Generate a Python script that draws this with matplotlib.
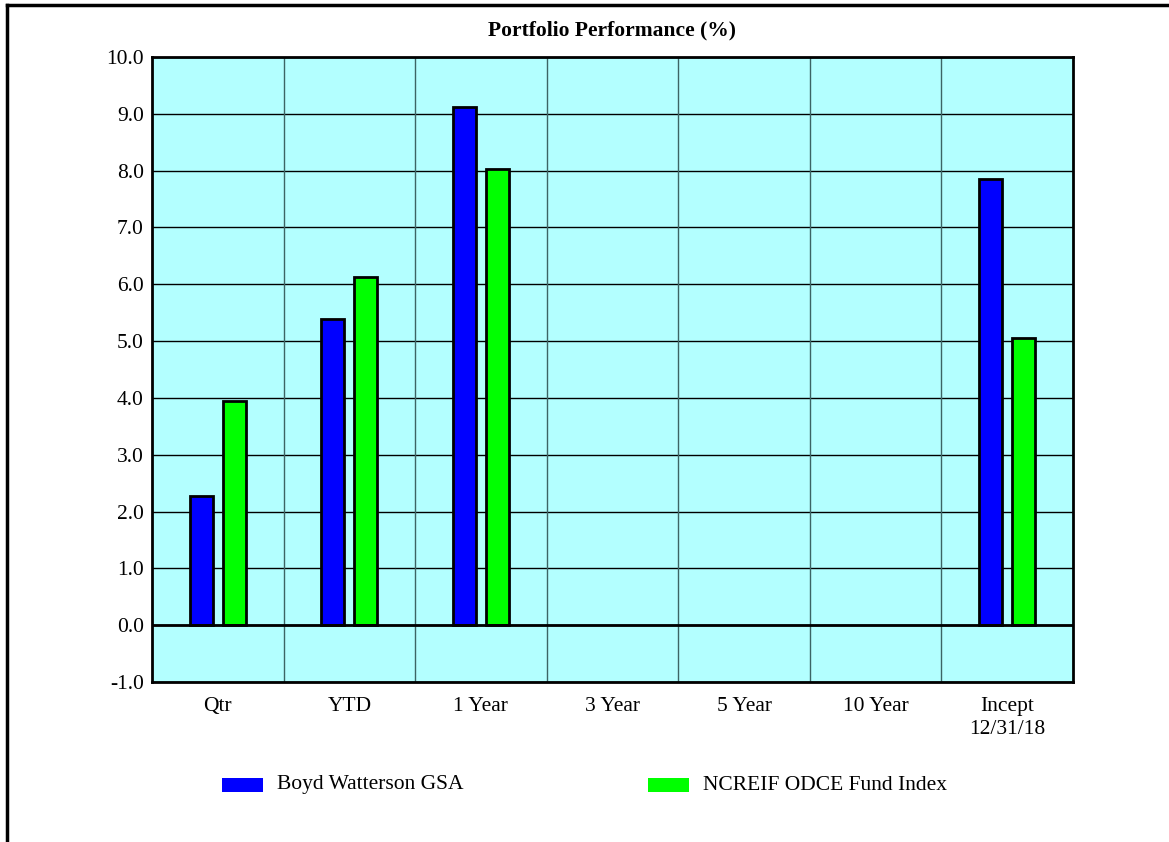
import matplotlib.pyplot as plt
from matplotlib.lines import Line2D
from matplotlib.patches import Rectangle
import numpy as np

plt.rcParams['font.family'] = ['Liberation Serif', 'DejaVu Serif']

categories = ["Qtr", "YTD", "1 Year", "3 Year", "5 Year", "10 Year", "Incept\n12/31/18"]
boyd = [2.27, 5.39, 9.12, 0.0, 0.0, 0.0, 7.85]
ncreif = [3.94, 6.13, 8.03, 0.0, 0.0, 0.0, 5.05]
series_names = ["Boyd Watterson GSA", "NCREIF ODCE Fund Index"]
y_ticks = [-1.0, 0.0, 1.0, 2.0, 3.0, 4.0, 5.0, 6.0, 7.0, 8.0, 9.0, 10.0]

W, H = 1169, 842
fig = plt.figure(figsize=(W / 100, H / 100), dpi=100)
FS = 15.5

# axes placed in pixel terms
left, right, top, bottom = 152, 1073, 57, 682
ax = fig.add_axes([left / W, 1 - bottom / H, (right - left) / W, (bottom - top) / H])
ax.set_facecolor("#B3FFFF")

x = np.arange(len(categories))
bw = 0.175
off = 0.125
for i in x:
    if boyd[i] != 0:
        ax.bar(i - off, boyd[i], bw, color="#0000FF", edgecolor="black", linewidth=2, zorder=3)
    if ncreif[i] != 0:
        ax.bar(i + off, ncreif[i], bw, color="#00FF00", edgecolor="black", linewidth=2, zorder=3)

ax.set_xlim(-0.5, len(categories) - 0.5)
ax.set_ylim(-1, 10)

# grid
for yv in y_ticks:
    ax.axhline(yv, color="black", linewidth=1.0, zorder=1)
ax.axhline(0, color="black", linewidth=2, zorder=4)
for b in np.arange(0.5, len(categories) - 0.5, 1):
    ax.axvline(b, color="#3C6464", linewidth=1.0, zorder=1)

ax.set_yticks(y_ticks)
ax.set_yticklabels([f"{v:.1f}" for v in y_ticks], fontsize=FS)
ax.set_xticks(x)
ax.set_xticklabels(categories, fontsize=FS, linespacing=1.25, va="top")
ax.tick_params(length=0, pad=6)
ax.tick_params(axis="x", pad=11)
for s in ax.spines.values():
    s.set_linewidth(2)
    s.set_color("black")

fig.text((left + right) / 2 / W, 1 - 30 / H, "Portfolio Performance (%)", ha="center",
         va="center", fontsize=FS, fontweight="bold")

# legend
colors = ["#0000FF", "#00FF00"]
lx = [222, 648]
for name, c, px in zip(series_names, colors, lx):
    fig.patches.append(Rectangle((px / W, 1 - 792 / H), 41 / W, 14 / H, transform=fig.transFigure,
                                 facecolor=c, edgecolor="none"))
    fig.text((px + 55) / W, 1 - 785 / H, name, ha="left", va="center", fontsize=FS)

# outer frame (top and left edges)
fig.lines.append(Line2D([7 / W, 1], [1 - 5 / H, 1 - 5 / H], transform=fig.transFigure,
                        color="black", linewidth=2.5))
fig.lines.append(Line2D([7 / W, 7 / W], [1 - 5 / H, 0], transform=fig.transFigure,
                        color="black", linewidth=2.5))

fig.savefig("out.png", dpi=100)
